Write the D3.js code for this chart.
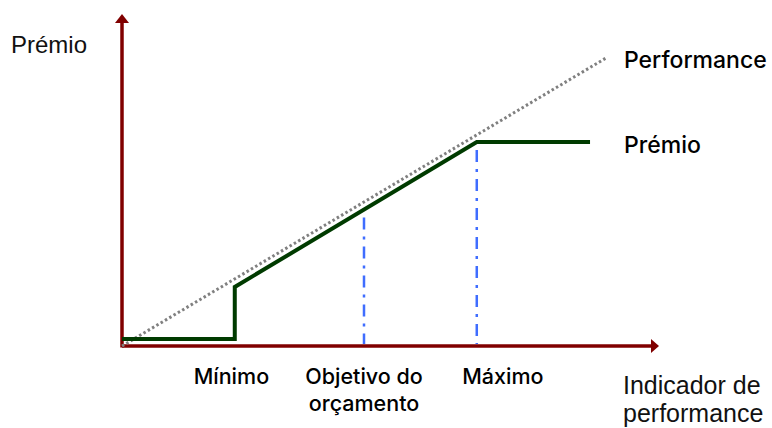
<!DOCTYPE html>
<html><head><meta charset="utf-8">
<script src="https://cdn.jsdelivr.net/npm/d3@7"></script>
<style>html,body{margin:0;padding:0;background:#fff;}svg{display:block;}</style>
</head><body>
<svg id="c" width="772" height="428"></svg>
<script>
// ---- data ----
const performanceLine = [[0, 0], [100, 100]];          // dotted 45° line
const premioLine = [[0, 2.4], [23.3, 2.4], [23.3, 20.5], [73.3, 70.8], [96.7, 70.8]];
const markerX = [50, 73.3];                             // blue dash-dot guides
const tickLabels = [
  { x: 22.6, lines: ["Mínimo"] },
  { x: 50, lines: ["Objetivo do", "orçamento"] },
  { x: 78.7, lines: ["Máximo"] }
];
const seriesLabels = [{ text: "Performance", y: 97 }, { text: "Prémio", y: 67.5 }];
const yTitle = "Prémio";
const xTitle = ["Indicador de", "performance"];

// ---- layout ----
const svg = d3.select("#c");
const x = d3.scaleLinear().domain([0, 100]).range([122, 606]);
const y = d3.scaleLinear().domain([0, 100]).range([346, 58]);
const axisColor = "#800000";
const boldFont = "Inter, Roboto, 'Liberation Sans', Arial, sans-serif";
const titleFont = "'Liberation Sans', Arial, sans-serif";

// axes
svg.append("line").attr("x1", x(0)).attr("x2", 652).attr("y1", y(0)).attr("y2", y(0))
  .attr("stroke", axisColor).attr("stroke-width", 3.5);
svg.append("line").attr("x1", x(0)).attr("x2", x(0)).attr("y1", y(0) + 1.5).attr("y2", 22)
  .attr("stroke", axisColor).attr("stroke-width", 3.5);
svg.append("path").attr("d", `M659,${y(0)} L651,${y(0)-7} L651,${y(0)+7} Z`).attr("fill", axisColor);
svg.append("path").attr("d", `M${x(0)},14 L${x(0)-7},23 L${x(0)+7},23 Z`).attr("fill", axisColor);

const line = d3.line().x(d => x(d[0])).y(d => y(d[1]));

// blue guides
markerX.forEach(v => {
  const top = d3.scaleLinear().domain([23.3, 73.3]).range([20.5, 70.8])(v);
  svg.append("line").attr("x1", x(v)).attr("x2", x(v)).attr("y1", y(top) + 8).attr("y2", y(0) - 2)
    .attr("stroke", "#3f6dff").attr("stroke-width", 2.5).attr("stroke-dasharray", "12,7,3,7");
});

// performance dotted
svg.append("path").datum(performanceLine).attr("d", line).attr("fill", "none")
  .attr("stroke", "#808080").attr("stroke-width", 3).attr("stroke-dasharray", "2.5,2.5");

// premio line
svg.append("path").datum(premioLine).attr("d", line).attr("fill", "none")
  .attr("stroke", "#003b00").attr("stroke-width", 4).attr("stroke-linejoin", "miter");

// tick labels
tickLabels.forEach(t => {
  const tx = svg.append("text").attr("x", x(t.x)).attr("y", 384).attr("text-anchor", "middle")
    .attr("font-family", boldFont).attr("font-weight", 500).attr("font-size", 21.5).attr("fill", "#000");
  t.lines.forEach((l, i) => tx.append("tspan").attr("x", x(t.x)).attr("dy", i ? 27 : 0).text(l));
});

// series labels
seriesLabels.forEach(s => {
  svg.append("text").attr("x", 624).attr("y", y(s.y) + 1).attr("font-family", boldFont)
    .attr("font-weight", 500).attr("font-size", 23).attr("fill", "#000").text(s.text);
});

// axis titles
svg.append("text").attr("x", 11).attr("y", 53).attr("font-family", titleFont)
  .attr("font-size", 24).attr("fill", "#111").text(yTitle);
const xt = svg.append("text").attr("x", 623).attr("y", 394).attr("font-family", titleFont)
  .attr("font-size", 25).attr("fill", "#111");
xTitle.forEach((l, i) => xt.append("tspan").attr("x", 623).attr("dy", i ? 28 : 0).text(l));
</script>
</body></html>
